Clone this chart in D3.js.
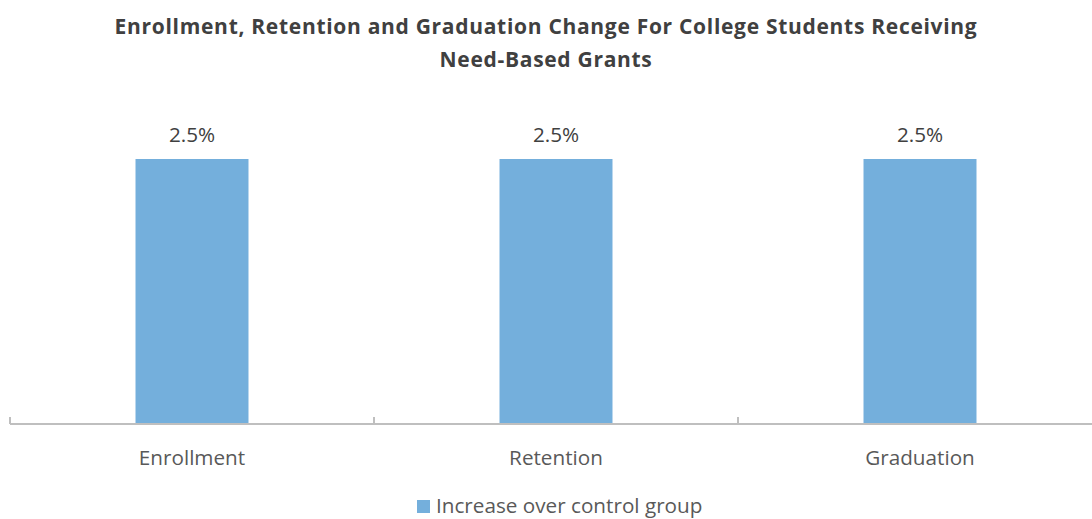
<!DOCTYPE html>
<html>
<head>
<meta charset="utf-8">
<script src="https://cdn.jsdelivr.net/npm/d3@7"></script>
<style>
  html, body { margin: 0; padding: 0; background: #ffffff; }
  svg { display: block; }
</style>
</head>
<body>
<svg id="chart" width="1092" height="519"></svg>
<script>
const categories = ["Enrollment", "Retention", "Graduation"];
const values = [2.5, 2.5, 2.5];
const dataLabels = ["2.5%", "2.5%", "2.5%"];
const seriesName = "Increase over control group";
const titleLines = ["Enrollment, Retention and Graduation Change For College Students Receiving", "Need-Based Grants"];
const yDomain = [0, 3];

const svg = d3.select("#chart");
const W = 1092, H = 519;
const plotLeft = 10, plotRight = 1102, plotBottom = 424, plotTop = 106;
const barColor = "#74afdc";
const font = "'Open Sans', 'Noto Sans', sans-serif";
const labelSize = "20.7px";

const x = d3.scaleBand().domain(categories).range([plotLeft, plotRight])
  .paddingInner(0.6896).paddingOuter(0.3448);
const xOuter = d3.scaleBand().domain(categories).range([plotLeft, plotRight]).padding(0);
const y = d3.scaleLinear().domain(yDomain).range([plotBottom, plotTop]);

// Title
const title = svg.append("text")
  .attr("x", W / 2)
  .attr("text-anchor", "middle")
  .style("font-family", font)
  .style("font-weight", "700")
  .style("font-size", "21px")
  .style("letter-spacing", "0.7px")
  .attr("fill", "#404040");
titleLines.forEach((t, i) => {
  title.append("tspan").attr("x", W / 2).attr("y", i === 0 ? 34 : 67).text(t);
});

// Bars
svg.append("g").selectAll("rect")
  .data(categories)
  .join("rect")
  .attr("x", d => x(d))
  .attr("width", x.bandwidth())
  .attr("y", (d, i) => y(values[i]))
  .attr("height", (d, i) => y(0) - y(values[i]))
  .attr("fill", barColor);

// Data labels
svg.append("g").selectAll("text")
  .data(categories)
  .join("text")
  .attr("x", d => x(d) + x.bandwidth() / 2)
  .attr("y", (d, i) => y(values[i]) - 17.5)
  .attr("text-anchor", "middle")
  .style("font-family", font)
  .style("font-size", labelSize)
  .attr("fill", "#404040")
  .text((d, i) => dataLabels[i]);

// X axis
const axisG = svg.append("g").attr("transform", `translate(0,${plotBottom})`);
const xAxis = d3.axisBottom(x).tickSize(0).tickPadding(0);
axisG.call(xAxis);
axisG.select(".domain").remove();
axisG.selectAll(".tick text")
  .attr("y", 41)
  .attr("dy", null)
  .style("font-family", font)
  .style("font-size", labelSize)
  .attr("fill", "#595959");
axisG.append("line")
  .attr("x1", plotLeft).attr("x2", W)
  .attr("y1", 0).attr("y2", 0)
  .attr("stroke", "#bfbfbf").attr("stroke-width", 2);
axisG.selectAll(".bound")
  .data(categories)
  .join("line")
  .attr("class", "bound")
  .attr("x1", d => xOuter(d)).attr("x2", d => xOuter(d))
  .attr("y1", -7).attr("y2", 0)
  .attr("stroke", "#bfbfbf").attr("stroke-width", 2);

// Legend
const legend = svg.append("g");
legend.append("rect")
  .attr("x", 417).attr("y", 500).attr("width", 13).attr("height", 13)
  .attr("fill", barColor);
legend.append("text")
  .attr("x", 436).attr("y", 513)
  .style("font-family", font)
  .style("font-size", labelSize)
  .attr("fill", "#595959")
  .text(seriesName);
</script>
</body>
</html>
